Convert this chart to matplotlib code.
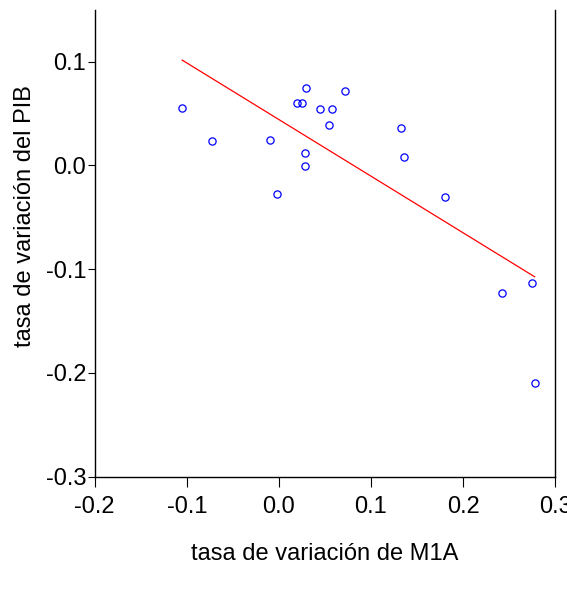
import matplotlib
matplotlib.use("Agg")
import matplotlib.pyplot as plt
import numpy as np

# ── Data ──────────────────────────────────────────────────────────────────────
m1a_growth = [
    -0.105, -0.0725, -0.010, -0.0015, 0.0196, 0.0253, 0.0300, 0.0283, 0.0283,
    0.0449, 0.0572, 0.0550, 0.0721, 0.1322, 0.1359, 0.1804, 0.2420, 0.2746, 0.2778,
]
gdp_growth = [
    0.055, 0.024, 0.0243, -0.028, 0.060, 0.060, 0.075, 0.012, -0.0008,
    0.054, 0.0546, 0.039, 0.0717, 0.0356, 0.008, -0.030, -0.123, -0.113, -0.2095,
]
x_ticks = [-0.2, -0.1, 0.0, 0.1, 0.2, 0.3]
y_ticks = [-0.3, -0.2, -0.1, 0.0, 0.1]

plt.rcParams.update({
    "font.family": ["Liberation Sans", "DejaVu Sans"],
    "font.size": 17,
})

x = np.array(m1a_growth)
y = np.array(gdp_growth)

fig = plt.figure(figsize=(5.67, 5.94), dpi=100)
ax = fig.add_axes([0.167, 0.1975, 0.812, 0.786])

ax.plot(x, y, "o", mfc="none", mec="#0000ff", ms=5.2, mew=0.9, ls="none")

# OLS fit line over the data range
slope, intercept = np.polyfit(x, y, 1)
xs = np.array([x.min(), x.max()])
ax.plot(xs, intercept + slope * xs, color="#ff0000", lw=0.9)

ax.set_xlim(-0.2, 0.3)
ax.set_ylim(-0.3, 0.15)
ax.set_xticks(x_ticks)
ax.set_yticks(y_ticks)
ax.set_xticklabels([f"{v:.1f}" for v in x_ticks])
ax.set_yticklabels([f"{v:.1f}" for v in y_ticks])

ax.spines["top"].set_visible(False)
for s in ("left", "right", "bottom"):
    ax.spines[s].set_linewidth(1.0)
ax.tick_params(axis="y", direction="out", length=5, width=0.8, pad=1)
ax.tick_params(axis="x", direction="out", length=7, width=0.8, pad=7)

ax.set_xlabel("tasa de variación de M1A", labelpad=18)
ax.set_ylabel("tasa de variación del PIB", labelpad=7)
# label sits a bit above the axes centre in the reference
ax.yaxis.label.set_y(0.559)

fig.savefig("out.png", dpi=100)
